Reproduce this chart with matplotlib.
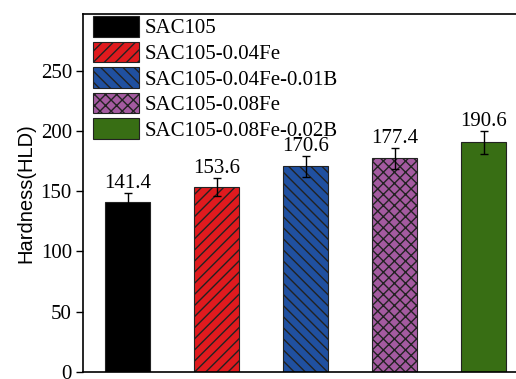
import matplotlib
matplotlib.use("Agg")
import matplotlib.pyplot as plt

# Hardness data for each solder alloy
alloys = ["SAC105", "SAC105-0.04Fe", "SAC105-0.04Fe-0.01B",
          "SAC105-0.08Fe", "SAC105-0.08Fe-0.02B"]
hardness = [141.4, 153.6, 170.6, 177.4, 190.6]
errors = [6.8, 7.5, 8.5, 8.7, 9.4]
colors = ["#000000", "#e01a1e", "#2050a0", "#a45aa0", "#386e14"]
hatches = ["", "///", "\\\\\\", "xxx", ""]
yticks = [0, 50, 100, 150, 200, 250]

plt.rcParams["hatch.linewidth"] = 1.0
plt.rcParams["hatch.color"] = "black"

W, H = 516, 379
fig = plt.figure(figsize=(W / 100, H / 100), dpi=100)
ax = fig.add_axes([83 / W, 7 / H, (W - 83) / W, (372 - 14) / H])

serif = "Liberation Serif"
x = list(range(len(alloys)))
bars = ax.bar(x, hardness, width=0.5, color=colors, edgecolor="#222222",
              linewidth=0.8, label=alloys)
for b, h in zip(bars, hatches):
    b.set_hatch(h)

ax.errorbar(x, hardness, yerr=errors, fmt="none", ecolor="black",
            elinewidth=1.0, capsize=3, capthick=1.0)

for xi, v, e in zip(x, hardness, errors):
    ax.annotate(f"{v:.1f}", (xi, v + e), xytext=(0, 0),
                textcoords="offset points", ha="center", va="bottom",
                fontsize=15, family=serif)

ax.set_xlim(-0.5, -0.5 + (W - 83) / 89)
ax.set_ylim(0, 297)
ax.set_yticks(yticks)
ax.set_yticklabels([str(t) for t in yticks], fontsize=15, family=serif)
ax.set_xticks([])
ax.tick_params(axis="y", direction="out", length=5, width=1.0, pad=3)
ax.spines["right"].set_visible(False)
for s in ("left", "top", "bottom"):
    ax.spines[s].set_linewidth(1.2)

ax.set_ylabel("Hardness(HLD)", fontsize=14.5, family="Liberation Sans",
              labelpad=4)

ax.legend(handles=list(bars), labels=alloys, loc="upper left",
          bbox_to_anchor=(8 / (W - 83), 1.0), frameon=False,
          borderaxespad=0.1, borderpad=0.0, handlelength=2.2,
          handleheight=1.15, labelspacing=0.15, handletextpad=0.25,
          prop={"family": serif, "size": 15})

fig.savefig("out.png", dpi=100)
